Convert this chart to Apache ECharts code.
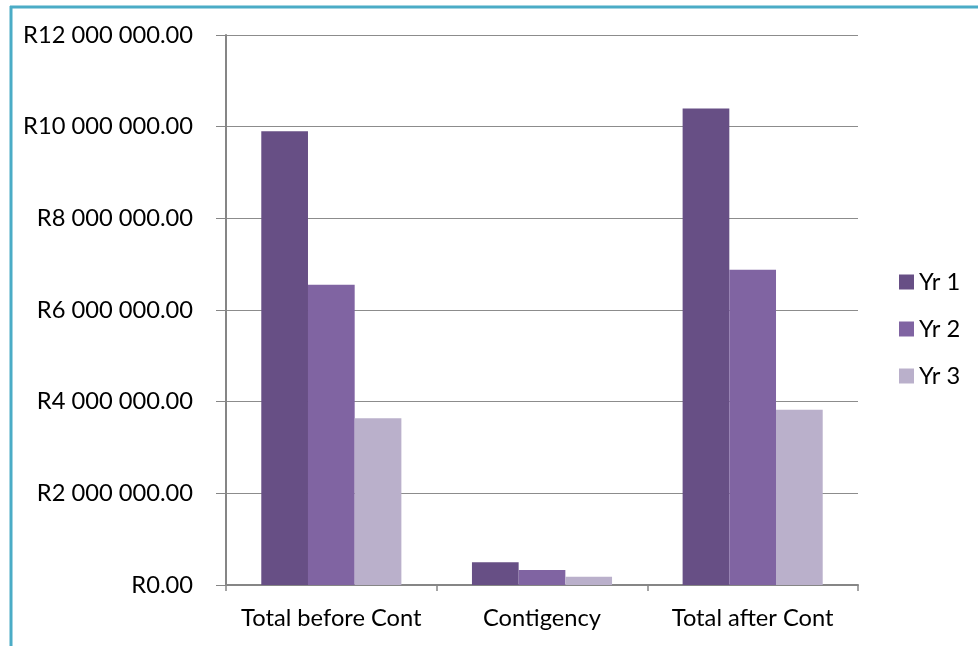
<!DOCTYPE html>
<html>
<head>
<meta charset="utf-8">
<script src="https://cdn.jsdelivr.net/npm/echarts@6/dist/echarts.min.js"></script>
<style>
  html, body { margin: 0; padding: 0; background: #fff; }
  #chart { width: 978px; height: 646px; }
</style>
</head>
<body>
<div id="chart"></div>
<script>
// Budget totals per year, in rand
const categories = ['Total before Cont', 'Contigency', 'Total after Cont'];
const yr1 = [9900000, 495000, 10395000];
const yr2 = [6550000, 327500, 6877500];
const yr3 = [3640000, 182000, 3822000];
const seriesNames = ['Yr 1', 'Yr 2', 'Yr 3'];
const colors = ['#674F85', '#8064A2', '#BAB0CB'];

const FONT = 'Lato';
const FS = 23.7;

function rand(v) {
  const s = Math.round(v).toString().replace(/\B(?=(\d{3})+(?!\d))/g, ' ');
  return 'R' + s + '.00';
}

const chart = echarts.init(document.getElementById('chart'), null, { renderer: 'canvas' });

chart.setOption({
  animation: false,
  backgroundColor: '#ffffff',
  textStyle: { fontFamily: FONT },
  grid: { left: 226, right: 120, top: 35, bottom: 61, containLabel: false },
  legend: {
    orient: 'vertical',
    left: 899,
    top: 270,
    padding: 0,
    itemWidth: 15,
    itemHeight: 15,
    itemGap: 23,
    icon: 'rect',
    textStyle: { fontFamily: FONT, fontSize: FS, color: '#000' },
    data: seriesNames
  },
  xAxis: {
    type: 'category',
    data: categories,
    axisLine: { show: true, lineStyle: { color: '#868686', width: 2 } },
    axisTick: { show: true, alignWithLabel: false, length: 6, lineStyle: { color: '#868686', width: 1.5 } },
    axisLabel: { fontFamily: FONT, fontSize: FS, color: '#000', margin: 21, interval: 0 },
    splitLine: { show: false }
  },
  yAxis: {
    type: 'value',
    min: 0,
    max: 12000000,
    interval: 2000000,
    axisLine: { show: true, lineStyle: { color: '#868686', width: 2 } },
    axisTick: { show: true, inside: false, length: 10, lineStyle: { color: '#868686', width: 1 } },
    axisLabel: { fontFamily: FONT, fontSize: FS, color: '#000', margin: 33, formatter: rand },
    splitLine: { show: true, lineStyle: { color: '#8c8c8c', width: 1 } }
  },
  series: [
    { name: seriesNames[0], type: 'bar', data: yr1, itemStyle: { color: colors[0] }, barGap: '0%', barCategoryGap: '33.5%' },
    { name: seriesNames[1], type: 'bar', data: yr2, itemStyle: { color: colors[1] }, barGap: '0%', barCategoryGap: '33.5%' },
    { name: seriesNames[2], type: 'bar', data: yr3, itemStyle: { color: colors[2] }, barGap: '0%', barCategoryGap: '33.5%' }
  ],
  graphic: [
    { type: 'line', shape: { x1: 10, y1: 7, x2: 978, y2: 7 }, style: { stroke: '#4BACC6', lineWidth: 3 } },
    { type: 'line', shape: { x1: 11, y1: 6, x2: 11, y2: 646 }, style: { stroke: '#4BACC6', lineWidth: 3 } }
  ]
});
</script>
</body>
</html>
